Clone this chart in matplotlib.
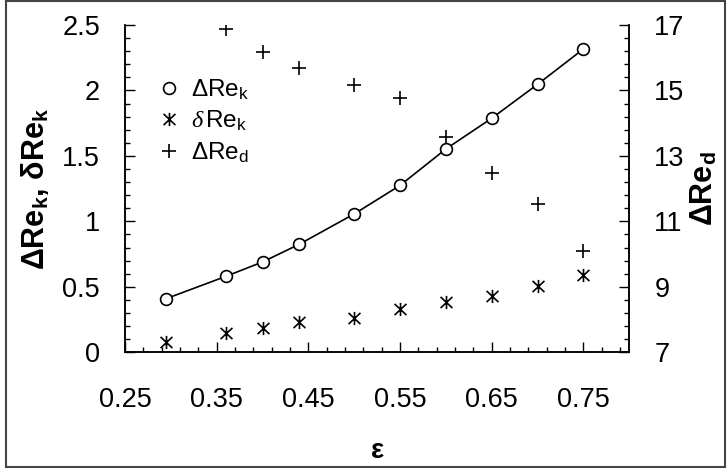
import matplotlib
matplotlib.use("Agg")
import matplotlib.pyplot as plt
from matplotlib.path import Path
from matplotlib.patches import Rectangle
from matplotlib.ticker import FixedLocator, FixedFormatter, MultipleLocator

plt.rcParams['font.family'] = ['Liberation Sans', 'DejaVu Sans']
plt.rcParams['mathtext.fontset'] = 'custom'
plt.rcParams['mathtext.rm'] = 'Liberation Sans'
plt.rcParams['mathtext.it'] = 'Liberation Serif:italic'
plt.rcParams['mathtext.bf'] = 'Liberation Sans:bold'

# porosity values
eps_k = [0.295, 0.36, 0.40, 0.44, 0.50, 0.55, 0.60, 0.65, 0.70, 0.75]
eps_d = [0.36, 0.40, 0.44, 0.50, 0.55, 0.60, 0.65, 0.70, 0.75]

# left axis series
delta_re_k = [0.41, 0.58, 0.69, 0.825, 1.057, 1.275, 1.553, 1.788, 2.047, 2.317]
small_delta_re_k = [0.076, 0.145, 0.183, 0.234, 0.264, 0.328, 0.382, 0.432, 0.506, 0.591]

# right axis series
delta_re_d = [16.87, 16.18, 15.68, 15.17, 14.76, 13.57, 12.49, 11.53, 10.09]

x_ticks = [0.25, 0.35, 0.45, 0.55, 0.65, 0.75]
x_tick_labels = ['0.25', '0.35', '0.45', '0.55', '0.65', '0.75']
y_left_ticks = [0, 0.5, 1, 1.5, 2, 2.5]
y_left_labels = ['0', '0.5', '1', '1.5', '2', '2.5']
y_right_ticks = [7, 9, 11, 13, 15, 17]
y_right_labels = ['7', '9', '11', '13', '15', '17']

# asterisk marker: vertical bar crossed by an X
star = Path([(0, -1), (0, 1), (-0.9, -0.85), (0.9, 0.85), (-0.9, 0.85), (0.9, -0.85)],
            [Path.MOVETO, Path.LINETO] * 3)

W, H = 727, 473
AX_L, AX_R, AX_B, AX_T = 125, 629.3, 352.3, 25
fig = plt.figure(figsize=(W / 100, H / 100), dpi=100)
ax = fig.add_axes([AX_L / W, 1 - AX_B / H, (AX_R - AX_L) / W, (AX_B - AX_T) / H])
ax2 = ax.twinx()
ax_w = AX_R - AX_L

tick_fs = 19.5
label_fs = 22
lw = 1.2

# curve through the ΔRe_k points, then the markers on top
ax.plot(eps_k, delta_re_k, color='black', lw=lw, zorder=2)
ax.plot(eps_k, delta_re_k, ls='none', marker='o', ms=8.5, mfc='white', mec='black',
        mew=lw, zorder=3, label='ΔRe$_\\mathrm{k}$')
ax.plot(eps_k, small_delta_re_k, ls='none', marker=star, ms=9.5, mfc='none', mec='black',
        mew=lw, zorder=3, label='$\\delta\\,$Re$_\\mathrm{k}$')
ax2.plot(eps_d, delta_re_d, ls='none', marker='+', ms=10, mec='black', mew=lw,
         zorder=3, label='ΔRe$_\\mathrm{d}$')

ax.set_xlim(0.25, 0.80)
ax.set_ylim(0, 2.5)
ax2.set_ylim(7, 17)

ax.xaxis.set_major_locator(FixedLocator(x_ticks))
ax.xaxis.set_major_formatter(FixedFormatter(x_tick_labels))
ax.xaxis.set_minor_locator(MultipleLocator(0.02, offset=0.01))
ax.yaxis.set_major_locator(FixedLocator(y_left_ticks))
ax.yaxis.set_major_formatter(FixedFormatter(y_left_labels))
ax.yaxis.set_minor_locator(MultipleLocator(0.1))
ax2.yaxis.set_major_locator(FixedLocator(y_right_ticks))
ax2.yaxis.set_major_formatter(FixedFormatter(y_right_labels))
ax2.yaxis.set_minor_locator(MultipleLocator(0.4, offset=0.2))

for a in (ax, ax2):
    a.spines['top'].set_visible(False)
    for s in a.spines.values():
        s.set_linewidth(1.1)
    a.tick_params(which='major', direction='in', length=7, width=1.0, labelsize=tick_fs)
    a.tick_params(which='minor', direction='in', length=3.8, width=1.0)

ax.tick_params(axis='x', which='both', top=False, pad=25)
ax.tick_params(axis='y', which='both', left=True, right=False, pad=18)
ax2.tick_params(axis='y', which='both', right=True, left=False, pad=18)

ax.set_xlabel('ε', fontsize=20, fontweight='bold', labelpad=18)
ax.set_ylabel('ΔRe$_\\mathbf{k}$, δRe$_\\mathbf{k}$', fontsize=label_fs, fontweight='bold')
ax.yaxis.set_label_coords(-(AX_L - 51) / ax_w, 0.5)
ax2.set_ylabel('ΔRe$_\\mathbf{d}$', fontsize=label_fs, fontweight='bold', rotation=90)
ax2.yaxis.set_label_coords((689 - AX_L) / ax_w, 0.5)

h1, l1 = ax.get_legend_handles_labels()
h2, l2 = ax2.get_legend_handles_labels()
leg = ax.legend(h1 + h2, l1 + l2, loc='upper left', bbox_to_anchor=(0.064, 0.84),
                frameon=False, fontsize=17.5, handlelength=1.0, handletextpad=0.4,
                borderpad=0, borderaxespad=0, labelspacing=0.3)
leg.set_zorder(5)

# outer frame around the whole figure
fig.patches.append(Rectangle((6 / W, 1 - 467 / H), (725 - 6) / W, (467 - 1.5) / H,
                             transform=fig.transFigure, fill=False,
                             edgecolor='#444444', lw=1.5))

fig.savefig('out.png', dpi=100)
